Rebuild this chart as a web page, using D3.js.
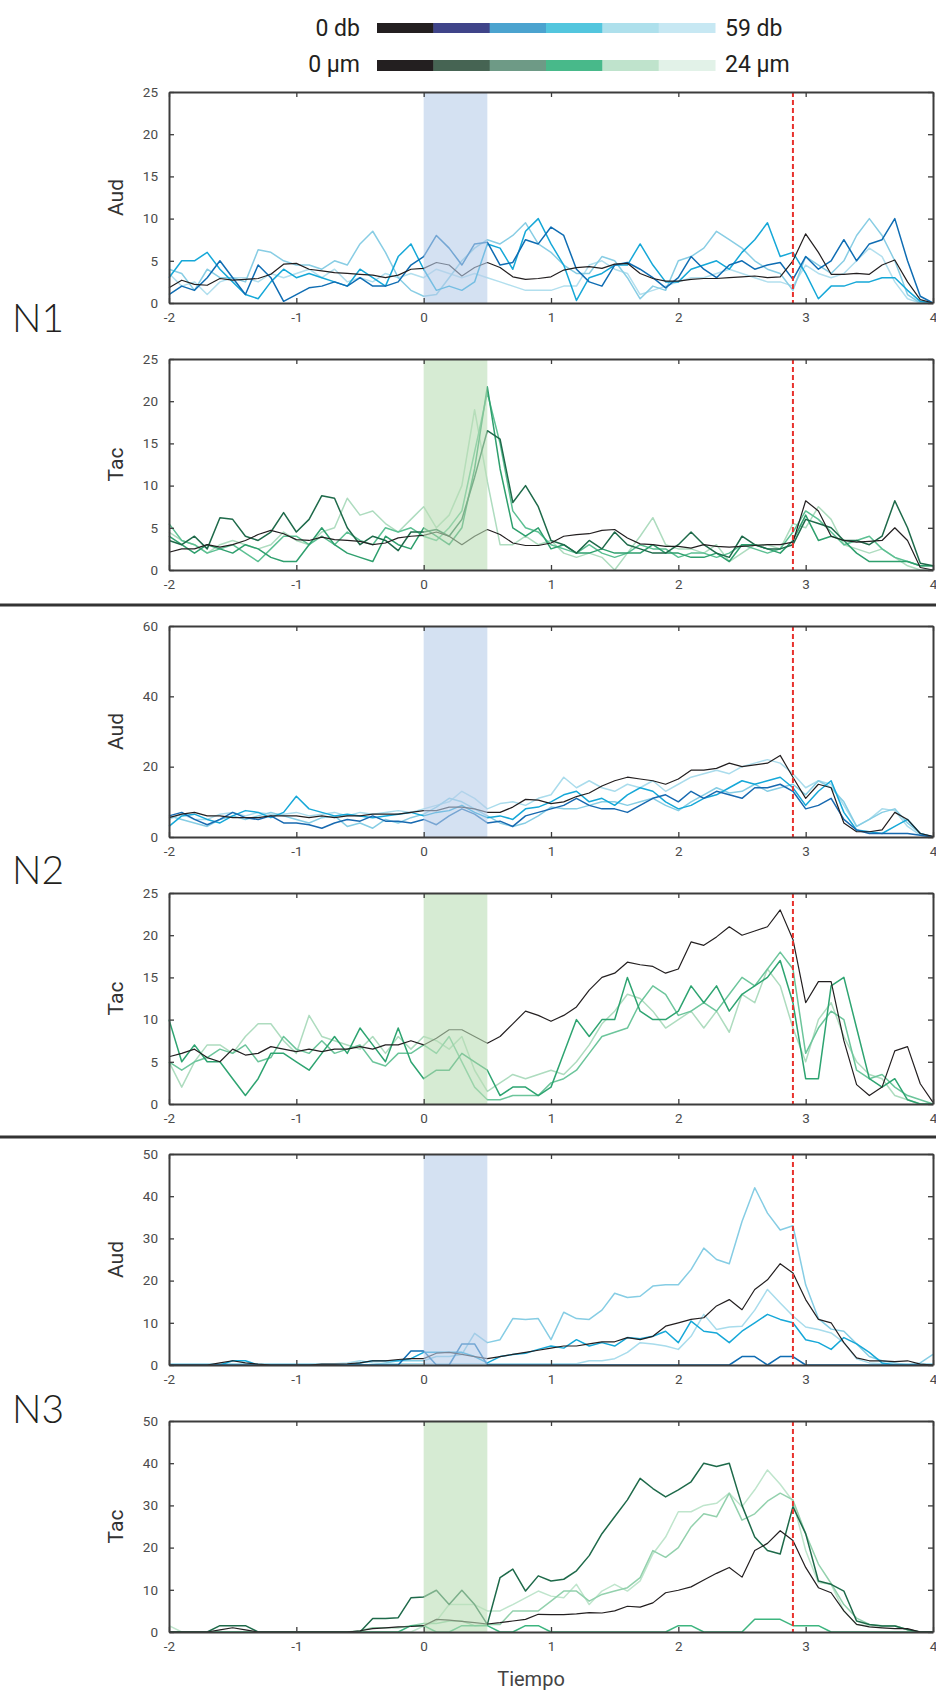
<!DOCTYPE html>
<html>
<head>
<meta charset="utf-8">
<script src="https://cdnjs.cloudflare.com/ajax/libs/d3/7.8.5/d3.min.js"></script>
<style>
body{margin:0;background:#ffffff;}
</style>
</head>
<body>
<svg id="grafica" width="936" height="1695"></svg>
<script>

// eje de tiempo (s)
var tiempo=[-2,-1.9,-1.8,-1.7,-1.6,-1.5,-1.4,-1.3,-1.2,-1.1,
            -1,-0.9,-0.8,-0.7,-0.6,-0.5,-0.4,-0.3,-0.2,-0.1,
            0,0.1,0.2,0.3,0.4,0.5,0.6,0.7,0.8,0.9,
            1,1.1,1.2,1.3,1.4,1.5,1.6,1.7,1.8,1.9,
            2,2.1,2.2,2.3,2.4,2.5,2.6,2.7,2.8,2.9,
            3,3.1,3.2,3.3,3.4,3.5,3.6,3.7,3.8,3.9,
            4];
var ticksX=[-2,-1,0,1,2,3,4];
var estimulo=[0,0.5];
var lineaRoja=2.9;

// leyenda
var leyendaDb=["0 db","59 db"];
var leyendaUm=["0 µm","24 µm"];
var coloresDb=["#231f20","#3f4489","#4ba3cf","#53c6de","#aee0ec","#c7e8f3"];
var coloresUm=["#231f20","#466453","#6e9a86","#48b98a","#bfe3cc","#e2f2e8"];

// N1 Aud
var n1Aud_negro=[1.8,2.7,2.2,2.1,2.9,2.7,2.8,2.9,3.4,4.6,
                 4.7,4.0,3.8,3.6,3.5,3.4,3.3,3.0,3.3,4.0,
                 4.1,4.8,4.5,3.2,4.2,4.8,4.2,3.1,2.8,2.9,
                 3.1,3.9,4.2,4.3,4.1,4.6,4.7,3.5,2.9,2.6,
                 2.6,2.8,2.9,2.9,3.0,3.1,3.2,3.0,3.1,5.0,
                 8.2,6.0,3.4,3.4,3.5,3.4,4.5,5.1,2.5,0.4,
                 0];
var n1Aud_azul=[1.0,2.0,1.5,3.0,5.0,3.0,1.0,4.5,3.0,0.2,
                1.0,1.8,2.0,2.5,2.0,3.0,2.0,2.0,2.5,4.5,
                5.5,8.0,6.5,4.5,7.0,7.2,4.5,4.8,7.5,7.0,
                9.0,8.0,4.0,2.5,2.0,4.5,4.8,4.0,3.0,1.8,
                3.0,5.5,4.0,3.0,4.5,5.0,4.0,4.5,4.8,2.8,
                5.5,4.0,5.0,7.5,5.0,7.0,7.5,10.0,5.0,0.8,
                0];
var n1Aud_cian=[3.0,5.0,5.0,6.0,4.0,2.5,1.0,0.5,2.5,4.0,
                3.0,3.5,3.0,2.5,2.0,4.0,3.0,2.0,5.5,7.0,
                4.0,1.5,2.0,1.5,2.5,7.0,6.5,4.0,8.5,10.0,
                7.0,4.5,0.3,3.0,3.5,4.5,4.5,7.0,4.5,2.5,
                2.5,4.0,4.5,5.0,4.0,6.0,7.5,9.5,5.5,6.0,
                3.5,0.5,2.0,2.0,2.5,2.5,3.0,3.0,1.5,0.2,
                0];
var n1Aud_claro=[4.0,3.5,1.5,4.0,3.0,3.0,2.5,6.3,6.0,5.0,
                 4.5,4.5,4.0,5.0,4.5,7.0,8.5,6.0,3.0,1.5,
                 0.8,1.0,3.0,5.0,6.5,7.5,7.0,8.0,9.5,7.0,
                 6.0,4.5,3.5,3.5,5.5,5.0,3.0,0.5,2.0,1.5,
                 5.0,5.5,6.5,8.5,7.5,6.5,5.0,4.0,3.5,1.5,
                 5.5,4.5,3.5,5.0,8.0,10.0,8.0,5.0,1.0,0.0,
                 0];
var n1Aud_palido=[3.5,2.0,2.5,1.0,2.5,3.0,3.0,2.5,3.5,3.0,
                  3.5,4.0,3.0,4.0,2.5,3.0,2.5,3.5,3.0,3.5,
                  3.0,4.0,3.5,3.0,3.5,3.0,2.5,2.0,1.5,1.5,
                  1.5,2.0,2.0,4.5,5.0,4.0,3.5,1.0,1.5,2.0,
                  2.5,3.0,3.0,3.5,4.0,3.5,3.0,2.5,2.5,2.0,
                  4.5,3.5,3.0,3.5,5.0,6.5,5.5,2.5,0.5,0.0,
                  0];

// N1 Tac
var n1Tac_negro=[2.1,2.5,2.5,3.0,2.7,3.0,3.5,4.2,4.7,4.3,
                 3.6,3.5,3.9,3.6,3.5,3.4,3.0,3.2,3.8,4.0,
                 4.1,4.5,4.0,3.0,4.0,4.8,4.2,3.2,2.9,2.9,
                 3.2,4.0,4.2,4.3,4.7,4.8,3.8,3.1,3.0,2.8,
                 2.8,2.6,3.0,2.8,2.7,2.8,2.9,3.0,3.0,3.3,
                 8.2,7.0,4.0,3.5,3.3,3.4,3.5,5.0,3.5,0.3,
                 0];
var n1Tac_oscuro=[3.5,3.0,4.0,2.5,6.2,6.0,4.0,3.5,4.5,6.8,
                  4.5,6.0,8.8,8.5,5.0,3.0,4.0,3.5,2.3,4.5,
                  4.5,4.8,4.0,6.0,11.0,16.5,15.5,8.0,10.0,7.5,
                  3.5,3.0,2.0,3.5,2.5,4.5,3.0,2.5,2.0,2.0,
                  3.0,4.5,3.0,2.0,1.5,4.0,3.0,2.5,2.5,3.0,
                  6.0,5.5,5.0,3.5,3.5,3.0,4.0,8.2,5.0,0.8,
                  0.5];
var n1Tac_medio=[4.0,3.0,2.0,3.0,2.5,2.0,3.0,2.5,1.5,1.0,
                 1.0,3.0,5.0,3.0,2.0,1.5,1.0,4.0,3.0,2.5,
                 5.0,4.0,3.0,5.0,12.0,21.7,12.0,5.0,4.0,5.0,
                 2.5,3.0,2.0,2.0,2.5,2.0,2.0,2.0,3.0,2.0,
                 2.0,1.5,1.5,2.0,1.0,3.0,3.0,2.5,2.0,3.5,
                 6.5,3.5,4.0,3.5,2.0,1.0,1.0,1.0,1.0,0.5,
                 0.5];
var n1Tac_verde=[5.5,3.5,3.0,2.0,2.5,3.0,2.0,1.0,2.5,4.0,
                 4.0,3.0,4.0,3.0,4.5,3.5,3.0,5.0,4.5,5.0,
                 4.0,3.5,5.0,7.0,14.0,21.0,15.0,7.0,5.0,4.5,
                 3.0,2.5,2.0,3.0,2.0,1.5,2.0,3.0,2.5,2.5,
                 1.5,2.0,2.0,1.5,2.0,3.0,2.5,2.0,2.5,4.5,
                 7.0,6.0,4.5,3.0,3.5,4.0,2.5,1.5,1.0,0.5,
                 0.5];
var n1Tac_claro=[4.5,3.5,3.0,2.0,3.0,3.5,3.0,2.5,3.0,4.5,
                 3.5,3.0,4.5,5.0,8.5,6.5,7.0,5.5,4.5,6.0,
                 7.5,5.0,6.5,10.0,19.0,10.5,3.0,3.0,4.0,3.0,
                 3.5,2.0,1.5,2.0,1.5,0.0,2.0,4.0,6.2,3.0,
                 2.5,2.5,2.0,3.0,1.0,2.0,3.0,3.0,2.5,5.5,
                 5.0,7.5,6.0,3.0,2.5,2.0,2.5,1.5,0.5,0.0,
                 0];

// N2 Aud
var n2Aud_negro=[5.5,6.5,7.0,6.0,6.0,5.5,5.5,5.5,6.0,6.0,
                 6.0,5.5,6.0,5.5,6.0,6.0,6.5,6.5,6.5,7.0,
                 7.5,7.5,8.5,8.5,8.0,7.0,7.0,8.5,10.7,10.5,
                 9.5,10.0,11.5,12.5,14.5,16.0,17.0,16.5,16.0,15.0,
                 16.5,19.0,19.0,19.5,21.0,20.0,20.5,21.0,23.2,17.0,
                 11.0,15.0,14.0,4.0,1.5,1.5,2.0,7.0,5.0,1.0,
                 0.2];
var n2Aud_azul=[6.0,7.0,5.0,3.5,5.0,7.0,5.5,5.0,6.0,4.0,
                4.0,3.5,2.5,4.0,5.0,4.5,6.0,4.5,4.5,4.0,
                5.0,3.5,6.0,8.0,6.5,4.0,4.5,3.0,6.0,7.0,
                8.0,9.0,11.0,9.0,8.0,8.0,7.0,9.0,11.0,12.0,
                10.0,13.0,11.0,13.0,12.0,11.0,14.0,14.0,15.0,13.0,
                8.0,9.0,11.0,5.0,2.0,1.0,1.0,1.0,1.0,0.5,
                0];
var n2Aud_cian=[3.0,6.0,6.5,5.0,4.0,6.0,7.5,7.0,5.5,7.0,
                11.6,8.0,7.0,6.0,6.5,6.0,5.5,6.0,6.5,7.0,
                6.0,7.0,7.5,9.0,7.0,5.5,6.0,5.0,8.0,8.5,
                10.0,12.0,13.0,10.0,11.0,9.0,12.0,14.0,13.0,10.0,
                8.0,9.0,11.0,12.0,14.0,16.0,15.0,16.0,17.0,14.0,
                9.0,13.0,16.0,7.0,2.0,1.5,1.0,3.0,5.0,1.0,
                0];
var n2Aud_claro=[6.0,5.0,4.0,3.0,5.0,6.0,5.0,6.0,7.0,6.0,
                 5.0,4.0,5.5,6.0,3.0,4.0,2.5,5.0,4.0,5.5,
                 6.5,8.5,11.0,10.0,8.0,6.0,4.0,3.0,4.0,6.0,
                 8.5,8.0,8.0,9.0,10.0,10.0,9.0,10.0,11.0,9.0,
                 7.5,10.0,12.0,14.0,12.5,13.0,15.0,13.0,14.0,15.0,
                 12.0,16.0,14.0,10.0,3.0,5.0,7.0,8.0,4.0,1.0,
                 0];
var n2Aud_palido=[5.0,6.5,5.0,5.0,6.5,7.0,6.0,7.0,6.5,6.5,
                  7.0,6.0,6.5,7.0,6.0,7.0,6.5,7.0,7.5,7.0,
                  8.0,9.0,10.0,13.0,11.0,8.0,9.5,10.0,9.0,11.0,
                  12.0,17.0,14.0,16.0,14.0,13.0,15.0,14.0,16.0,13.0,
                  15.0,17.0,18.0,19.0,18.0,20.0,21.0,22.0,21.0,18.0,
                  14.0,16.0,15.0,9.0,3.0,5.0,8.0,7.5,3.0,0.5,
                  0];

// N2 Tac
var n2Tac_negro=[5.6,6.0,6.5,5.5,5.0,6.5,5.8,6.0,6.8,6.5,
                 6.2,6.5,6.2,6.5,6.5,6.8,6.5,7.0,7.0,7.5,
                 7.0,7.8,8.8,8.8,8.0,7.2,8.0,9.5,11.0,10.5,
                 9.8,10.5,11.5,13.5,15.0,15.5,16.8,16.5,16.3,15.5,
                 16.0,19.2,18.8,19.8,21.0,20.0,20.5,21.0,23.0,19.5,
                 12.0,14.5,14.5,7.5,2.3,1.0,2.0,6.3,6.8,2.4,
                 0.2];
var n2Tac_verde=[10.0,5.0,7.0,5.0,5.0,3.0,1.0,3.0,6.0,6.0,
                 5.0,4.0,6.0,8.0,6.0,9.0,7.0,5.0,9.0,5.0,
                 3.0,4.0,4.0,6.0,5.0,4.0,1.0,2.0,2.0,1.0,
                 2.0,6.0,10.0,8.0,10.0,10.0,15.0,11.0,10.0,10.0,
                 11.0,14.0,12.0,14.0,11.0,13.0,14.0,15.0,17.0,12.0,
                 3.0,3.0,14.0,15.0,9.0,3.0,2.0,3.0,0.5,0.0,
                 0];
var n2Tac_medio=[5.0,4.0,5.0,5.5,6.5,6.0,7.0,5.0,5.5,8.0,
                 6.5,6.0,7.5,6.0,6.5,7.0,5.0,4.5,6.0,6.0,
                 7.0,6.0,8.0,5.0,2.0,0.5,0.5,1.0,1.0,1.0,
                 2.5,3.0,4.0,6.0,8.0,8.5,9.0,12.0,14.0,13.0,
                 10.5,11.0,12.0,11.0,13.0,15.0,14.0,16.0,18.0,16.0,
                 6.0,9.0,11.0,10.0,4.0,3.0,3.5,2.0,1.0,0.5,
                 0];
var n2Tac_claro=[5.0,2.0,5.0,7.0,7.0,6.0,8.0,9.5,9.5,7.5,
                 6.0,10.5,8.0,7.5,7.0,6.5,8.0,6.0,8.0,6.5,
                 8.0,7.5,6.5,8.0,4.0,1.5,2.5,3.5,3.0,3.5,
                 4.0,3.5,5.0,7.0,9.5,11.0,13.0,12.5,11.0,9.0,
                 10.0,11.0,9.0,11.0,8.5,13.0,12.0,16.0,14.0,9.0,
                 5.0,10.0,12.0,8.0,5.0,3.5,3.0,1.0,0.5,0.0,
                 0];

// N3 Aud
var n3Aud_negro=[0,0,0,0,0.5,1.0,0.5,0.2,0,0,
                 0,0,0.2,0.2,0.3,0.5,1.0,1.0,1.3,1.5,
                 1.5,2.8,3.0,2.5,2.0,1.5,2.0,2.5,3.0,3.5,
                 4.0,4.5,4.5,5.0,5.5,5.5,6.5,6.0,6.8,9.2,
                 10.0,10.8,11.2,14.0,15.5,13.1,17.9,20.2,24.0,21.8,
                 15.5,10.8,10.0,5.3,1.7,1.0,1.0,0.8,1.0,0.2,
                 0];
var n3Aud_azul=[0,0,0,0,0,0,0,0,0,0,
                0,0,0,0,0,0,0,0,0,3.3,
                3.3,0,0,5.0,5.0,0,0,0,0,0,
                0,0,0,0,0,0,0,0,0,0,
                0,0,0,0,0,2.0,2.0,0,2.0,2.0,
                0,0,0,0,0,0,0,0,0,0,
                0];
var n3Aud_cian=[0,0,0,0,0,1.0,1.0,0,0,0,
                0,0,0,0,0,0.5,1.0,1.0,1.0,1.5,
                3.0,3.0,3.0,3.0,2.0,0.5,2.0,2.5,2.8,3.7,
                4.5,4.0,6.0,4.5,5.3,4.5,6.5,6.2,6.8,8.0,
                5.3,10.4,8.0,7.6,5.3,8.0,10.0,12.0,10.8,10.0,
                6.0,5.3,3.7,6.5,5.0,3.0,0.5,0,0,0,
                0];
var n3Aud_claro=[0,0,0,0,0,0,0,0,0,0,
                 0,0,0,0,0,0,0,0.5,1.0,1.0,
                 1.0,2.0,2.0,2.5,7.5,5.3,6.0,11.0,10.8,11.0,
                 6.0,12.5,11.0,10.8,13.0,17.0,16.0,16.3,18.7,19.0,
                 19.0,22.6,27.7,25.0,24.0,34.0,42.0,36.0,32.0,33.0,
                 19.0,11.0,8.5,8.0,5.0,2.0,1.0,0.5,0.0,0.5,
                 2.5];
var n3Aud_palido=[0.3,0.3,0.3,0.3,0.3,0.3,0.3,0.3,0.3,0.3,
                  0.3,0.3,0.3,0.3,0.5,1.0,0.5,0.3,0.3,0.3,
                  0.3,0.3,0.3,0.3,0.3,0.3,0.3,0.3,0.3,0.3,
                  0.3,0.3,0.3,1.0,1.0,1.5,3.0,5.3,5.0,4.5,
                  3.7,6.8,12.0,8.4,9.0,9.2,13.0,17.9,14.7,11.6,
                  9.0,8.4,7.6,5.3,1.5,0.5,0.3,0.3,0.3,0.3,
                  0.3];

// N3 Tac
var n3Tac_negro=[0,0,0,0,0.5,1.0,0.5,0,0,0,
                 0,0,0,0,0,0.3,0.8,1.0,1.2,1.3,
                 1.5,3.0,2.8,2.5,2.2,1.9,2.2,2.6,3.0,4.2,
                 4.1,4.1,4.3,4.6,4.5,5.0,6.1,5.9,6.9,9.3,
                 9.9,10.7,12.3,13.9,15.3,13.0,19.3,21.0,24.0,21.7,
                 15.3,10.5,9.3,5.0,1.8,1.2,1.0,0.8,0.8,0,
                 0];
var n3Tac_oscuro=[0,0,0,0,1.5,1.5,1.5,0,0,0,
                  0,0,0,0,0,0,3.2,3.2,3.4,8.1,
                  8.3,9.9,6.5,9.9,6.5,1.8,12.9,14.9,9.7,13.3,
                  12.1,12.5,14.5,18.1,23.3,27.3,31.3,36.4,34.0,32.0,
                  33.7,35.6,40.0,39.2,40.0,30.0,22.5,19.3,18.5,29.7,
                  23.3,12.1,11.3,9.7,2.6,1.8,1.4,1.4,0.6,0,
                  0];
var n3Tac_verde=[0,0,0,0,0,0,0,0,0,0,
                 0,0,0,0,0,0,0,0,0,1.5,
                 1.5,0,0,1.5,1.5,1.5,0,0,1.5,1.5,
                 0,0,0,0,0,0,0,0,0,0,
                 1.5,1.5,0,0,0,0,3.0,3.0,3.0,1.5,
                 1.5,1.5,0,0,0,0,0,0,0,0,
                 0];
var n3Tac_medio=[0,0,0,0,0,0,0,0,0,0,
                 0,0,0,0,0,0.3,1.0,1.0,1.0,1.5,
                 2.0,2.0,2.6,2.6,1.5,1.8,1.8,5.0,5.0,5.0,
                 7.3,9.7,9.7,7.3,8.9,9.7,10.5,12.9,19.3,17.7,
                 20.0,24.9,28.0,27.3,32.9,26.5,28.0,31.0,32.9,31.3,
                 23.3,16.1,11.5,6.5,3.3,1.8,1.5,1.5,0.5,0,
                 0];
var n3Tac_claro=[1.5,0,0,0,0,0,0,0,0,0,
                 0,0,0,0,0,0,0,0,0,0,
                 1.4,2.6,6.5,6.5,6.5,5.0,5.0,6.5,8.1,9.7,
                 8.5,8.1,11.3,6.5,9.7,11.3,9.7,12.1,18.5,22.5,
                 28.5,28.5,30.0,30.5,32.9,29.7,33.7,38.4,35.0,31.0,
                 19.3,11.7,11.3,5.0,1.8,1.5,1.5,1.5,0.5,0,
                 0];

var svg=d3.select("#grafica");

var izq=169, der=933, alto=211;
var fuente="Roboto, 'Liberation Sans', Arial, sans-serif";

var x=d3.scaleLinear().domain([-2,4]).range([izq,der]);
var formato=function(d){ return String(d); };

// paneles
var paneles=[
    {top:92,  etiqueta:"Aud", max:25, ticks:[0,5,10,15,20,25], sombra:"#b7cde9",
     series:[n1Aud_palido,n1Aud_claro,n1Aud_cian,n1Aud_azul,n1Aud_negro],
     colores:["#b2dfee","#88cde4","#16a8d8","#0f6db3","#231f20"]},
    {top:359, etiqueta:"Tac", max:25, ticks:[0,5,10,15,20,25], sombra:"#bbdeb6",
     series:[n1Tac_claro,n1Tac_verde,n1Tac_medio,n1Tac_oscuro,n1Tac_negro],
     colores:["#aedcbf","#5cc093","#2e9f6d","#1e6a4a","#231f20"]},
    {top:626, etiqueta:"Aud", max:60, ticks:[0,20,40,60], sombra:"#b7cde9",
     series:[n2Aud_palido,n2Aud_claro,n2Aud_cian,n2Aud_azul,n2Aud_negro],
     colores:["#aadcec","#86cde4","#16a8d8","#1769b0","#231f20"]},
    {top:893, etiqueta:"Tac", max:25, ticks:[0,5,10,15,20,25], sombra:"#bbdeb6",
     series:[n2Tac_claro,n2Tac_medio,n2Tac_verde,n2Tac_negro],
     colores:["#aedcbf","#6cc59b","#2ea471","#231f20"]},
    {top:1154, etiqueta:"Aud", max:50, ticks:[0,10,20,30,40,50], sombra:"#b7cde9",
     series:[n3Aud_palido,n3Aud_claro,n3Aud_cian,n3Aud_azul,n3Aud_negro],
     colores:["#a8dcec","#86cde4","#16a8d8","#0f6db3","#231f20"]},
    {top:1421, etiqueta:"Tac", max:50, ticks:[0,10,20,30,40,50], sombra:"#bbdeb6",
     series:[n3Tac_claro,n3Tac_medio,n3Tac_verde,n3Tac_oscuro,n3Tac_negro],
     colores:["#bfe5cc","#93d1ad","#3db57f","#1e6a4a","#231f20"]}
];

paneles.forEach(function(p){

    var g=svg.append("g").attr("transform","translate(0,"+p.top+")");
    var y=d3.scaleLinear().domain([0,p.max]).range([alto,0]);

    var linea=d3.line()
        .x(function(d,i){ return x(tiempo[i]); })
        .y(function(d){ return y(d); });

    for(var s=0; s<p.series.length; s++){
        g.append("path")
            .datum(p.series[s])
            .attr("d",linea)
            .attr("fill","none")
            .attr("stroke",p.colores[s])
            .attr("stroke-width", s==p.series.length-1 ? 1.2 : 1.5)
            .attr("stroke-linejoin","round");
    }

    // zona de estimulo
    g.append("rect")
        .attr("x",x(estimulo[0]))
        .attr("width",x(estimulo[1])-x(estimulo[0]))
        .attr("y",0)
        .attr("height",alto)
        .attr("fill",p.sombra)
        .attr("opacity",0.6);

    g.append("line")
        .attr("x1",x(lineaRoja)).attr("x2",x(lineaRoja))
        .attr("y1",0).attr("y2",alto)
        .attr("stroke","#e8322d")
        .attr("stroke-width",2)
        .attr("stroke-dasharray","5,3");

    var ejes=[
        g.append("g").attr("transform","translate(0,"+alto+")")
            .call(d3.axisBottom(x).tickValues(ticksX).tickFormat(formato).tickSize(-5).tickSizeOuter(0).tickPadding(9)),
        g.append("g")
            .call(d3.axisTop(x).tickValues(ticksX).tickSize(-5).tickSizeOuter(0).tickFormat("")),
        g.append("g").attr("transform","translate("+izq+",0)")
            .call(d3.axisLeft(y).tickValues(p.ticks).tickFormat(formato).tickSize(-5).tickSizeOuter(0).tickPadding(11)),
        g.append("g").attr("transform","translate("+der+",0)")
            .call(d3.axisRight(y).tickValues(p.ticks).tickSize(-5).tickSizeOuter(0).tickFormat(""))
    ];

    ejes.forEach(function(e){
        e.select(".domain").attr("stroke","#3c3c3c").attr("stroke-width",2);
        e.selectAll(".tick line").attr("stroke","#3c3c3c").attr("stroke-width",1.3);
        e.selectAll(".tick text")
            .style("font-family",fuente)
            .style("font-size","13.5px")
            .attr("fill","#4a4a4a");
    });

    g.append("text")
        .attr("transform","translate(123,"+(alto/2)+") rotate(-90)")
        .style("font-family",fuente)
        .style("font-size","21px")
        .style("text-anchor","middle")
        .attr("fill","#333333")
        .text(p.etiqueta);

});

// separadores
[605,1137].forEach(function(yy){
    svg.append("line")
        .attr("x1",0).attr("x2",936)
        .attr("y1",yy).attr("y2",yy)
        .attr("stroke","#333333")
        .attr("stroke-width",3);
});

// N1 N2 N3
var grupos=[{t:"N1",y:332},{t:"N2",y:884},{t:"N3",y:1423}];
grupos.forEach(function(n){
    svg.append("text")
        .attr("x",12)
        .attr("y",n.y)
        .style("font-family","Lato, 'Noto Sans', sans-serif")
        .style("font-weight","300")
        .style("font-size","39px")
        .attr("fill","#231f20")
        .text(n.t);
});

svg.append("text")
    .attr("x",531)
    .attr("y",1686)
    .style("font-family",fuente)
    .style("font-size","20px")
    .style("text-anchor","middle")
    .attr("fill","#444444")
    .text("Tiempo");

// leyenda de colores
var xl=d3.scaleLinear().domain([0,6]).range([377,715]);
var filas=[{txt:leyendaDb,col:coloresDb,y:23,h:10,base:36},
           {txt:leyendaUm,col:coloresUm,y:60,h:11,base:72}];

filas.forEach(function(f){
    svg.selectAll(null).data(f.col).enter().append("rect")
        .attr("x",function(d,i){ return xl(i); })
        .attr("width",xl(1)-xl(0)+0.5)
        .attr("y",f.y)
        .attr("height",f.h)
        .attr("fill",function(d){ return d; });

    svg.append("text")
        .attr("x",360).attr("y",f.base)
        .style("font-family",fuente)
        .style("font-size","23px")
        .style("text-anchor","end")
        .attr("fill","#231f20")
        .text(f.txt[0]);

    svg.append("text")
        .attr("x",725).attr("y",f.base)
        .style("font-family",fuente)
        .style("font-size","23px")
        .style("text-anchor","start")
        .attr("fill","#231f20")
        .text(f.txt[1]);
});

</script>
</body>
</html>
